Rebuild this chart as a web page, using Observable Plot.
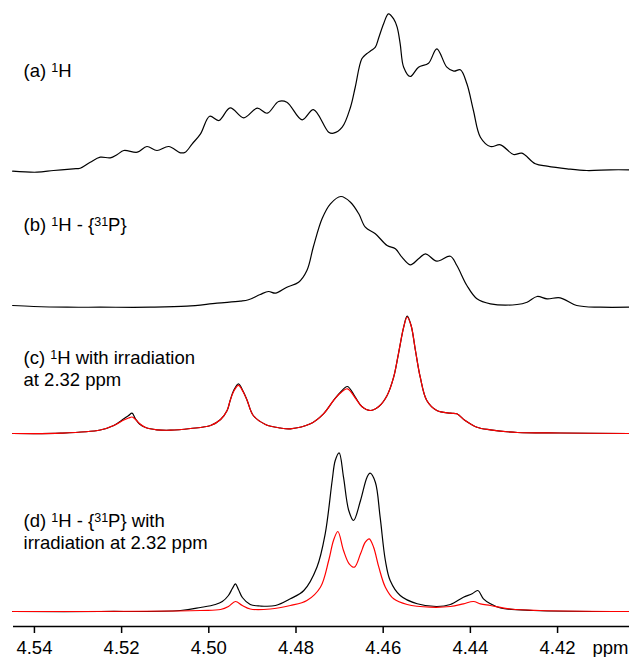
<!DOCTYPE html>
<html>
<head>
<meta charset="utf-8">
<script src="https://cdn.jsdelivr.net/npm/d3@7"></script>
<script src="https://cdn.jsdelivr.net/npm/@observablehq/plot@0.6"></script>
<style>
  html, body { margin: 0; padding: 0; background: #fff; }
  #chart svg { display: block; }
</style>
</head>
<body>
<div id="chart"></div>
<script>
// ---- Data (chemical shift in ppm, relative intensity) ----
const xTicks = [4.54, 4.52, 4.50, 4.48, 4.46, 4.44, 4.42];
const axisUnit = "ppm";

// vertical offset of each stacked spectrum (a, b, c, d)
const traceOffsets = [91, 64, 38.6, 3];

const traceLabels = [
  "(a) \u00B9H",
  "(b) \u00B9H - {\u00B3\u00B9P}",
  "(c) \u00B9H with irradiation\nat 2.32 ppm",
  "(d) \u00B9H - {\u00B3\u00B9P} with\nirradiation at 2.32 ppm"
];
const labelPpm = [4.5425, 4.5425, 4.5425, 4.5425];
const labelLevel = [110, 79.2, 48.2, 15.6];

// (a) 1H
const ppmA = [4.5450, 4.5394, 4.5356, 4.5311, 4.5295, 4.5272, 4.5249, 4.5226, 4.5210, 4.5195,
  4.5164, 4.5142, 4.5119, 4.5092, 4.5065, 4.5054, 4.5038, 4.5019, 4.4998, 4.4977,
  4.4951, 4.4920, 4.4889, 4.4866, 4.4840, 4.4821, 4.4786, 4.4760, 4.4725, 4.4714,
  4.4694, 4.4675, 4.4664, 4.4649, 4.4638, 4.4626, 4.4618, 4.4610, 4.4599, 4.4588,
  4.4576, 4.4568, 4.4561, 4.4553, 4.4538, 4.4519, 4.4496, 4.4477, 4.4454, 4.4438,
  4.4423, 4.4408, 4.4393, 4.4377, 4.4354, 4.4331, 4.4301, 4.4282, 4.4251, 4.4224,
  4.4178, 4.4133, 4.4079, 4.4036];
const intA = [0.06, -0.14, 0.2, 0.54, 0.66, 1.86, 2.86, 2.74, 3.4, 4.2,
  3.86, 5.0, 4.2, 5.0, 3.74, 3.86, 5.54, 7.54, 11.06, 10.2,
  12.74, 10.74, 12.66, 11.66, 14.0, 13.86, 10.34, 12.36, 7.86, 7.66,
  8.86, 12.86, 16.9, 22.54, 23.54, 24.3, 24.86, 26.8, 29.54, 31.54,
  30.54, 28.86, 25.54, 20.86, 19.0, 20.86, 21.66, 24.54, 20.86, 20.06,
  20.34, 17.54, 12.2, 6.86, 5.0, 5.34, 3.4, 3.66, 1.54, 1.06,
  0.54, 0.2, 0.34, 0.34];

// (b) 1H-{31P}
const ppmB = [4.5450, 4.5402, 4.5325, 4.5249, 4.5134, 4.5050, 4.4981, 4.4928, 4.4909, 4.4882,
  4.4863, 4.4847, 4.4821, 4.4794, 4.4775, 4.4760, 4.4740, 4.4721, 4.4697, 4.4675,
  4.4656, 4.4641, 4.4618, 4.4591, 4.4572, 4.4557, 4.4538, 4.4519, 4.4503, 4.4477,
  4.4446, 4.4431, 4.4408, 4.4385, 4.4354, 4.4293, 4.4270, 4.4247, 4.4224, 4.4194,
  4.4156, 4.4102, 4.4036];
const intB = [0.2, 0, -0.14, -0.14, -0.14, 0.06, 0.66, 1.06, 1.34, 2.4,
  3.0, 2.66, 3.86, 4.86, 7.2, 12.0, 17.6, 20.54, 22.0, 20.86,
  18.54, 15.86, 14.54, 12.2, 11.54, 9.86, 8.34, 9.54, 10.54, 9.06,
  10.06, 8.2, 4.2, 1.54, 0.54, 0.4, 0.86, 2.0, 1.54, 1.74,
  0.2, -0.14, -0.14];

// (c) 1H with irradiation at 2.32 ppm: black = experiment, red = overlay
const ppmC = [4.5450, 4.5340, 4.5249, 4.5218, 4.5195, 4.5184, 4.5176, 4.5168, 4.5159, 4.5145,
  4.5119, 4.5088, 4.5042, 4.4996, 4.4973, 4.4958, 4.4951, 4.4943, 4.4932, 4.4921,
  4.4912, 4.4898, 4.4870, 4.4836, 4.4813, 4.4767, 4.4737, 4.4714, 4.4698, 4.4682,
  4.4664, 4.4649, 4.4630, 4.4610, 4.4591, 4.4576, 4.4565, 4.4553, 4.4545, 4.4536,
  4.4526, 4.4515, 4.4500, 4.4477, 4.4446, 4.4431, 4.4412, 4.4385, 4.4354, 4.4292,
  4.4194, 4.4036];
const blackC = [0, 0.06, 0.7, 1.6, 2.94, 3.6, 4.06, 2.9, 1.9, 1.2,
  0.74, 0.66, 1.0, 1.6, 2.8, 4.6, 6.6, 8.6, 9.94, 8.4,
  6.6, 3.6, 1.8, 1.1, 0.94, 1.94, 3.94, 6.6, 8.26, 9.4,
  7.26, 5.4, 4.6, 5.4, 7.6, 11.26, 15.94, 21.26, 23.46, 21.6,
  16.6, 11.26, 6.6, 4.6, 4.06, 3.94, 2.6, 1.26, 0.74, 0.2,
  0.1, 0];
const redC = [0, 0.06, 0.7, 1.6, 2.7, 3.1, 3.3, 2.8, 2.0, 1.2,
  0.74, 0.66, 1.0, 1.6, 2.8, 4.6, 6.6, 8.4, 9.64, 8.3,
  6.6, 3.6, 1.8, 1.1, 0.94, 1.94, 3.94, 6.6, 8.1, 8.94,
  7.1, 5.4, 4.6, 5.4, 7.6, 11.26, 15.94, 21.26, 23.3, 21.6,
  16.6, 11.26, 6.6, 4.6, 4.06, 3.94, 2.6, 1.26, 0.74, 0.2,
  0.1, 0];

// (d) 1H-{31P} with irradiation at 2.32 ppm
const ppmDk = [4.5450, 4.5249, 4.5065, 4.5019, 4.4985, 4.4969, 4.4955, 4.4946, 4.4939, 4.4932,
  4.4923, 4.4905, 4.4882, 4.4847, 4.4813, 4.4782, 4.4752, 4.4733, 4.4717, 4.4710,
  4.4701, 4.4691, 4.4679, 4.4668, 4.4652, 4.4637, 4.4630, 4.4618, 4.4607, 4.4595,
  4.4584, 4.4561, 4.4522, 4.4477, 4.4446, 4.4416, 4.4396, 4.4383, 4.4370, 4.4354,
  4.4331, 4.4256, 4.4036];
const blackD = [0, 0, 0.2, 0.8, 1.4, 2.0, 3.2, 4.6, 5.54, 4.4,
  2.8, 1.4, 1.1, 1.2, 2.54, 4.2, 8.86, 15.54, 26.2, 30.2,
  31.74, 26.86, 20.2, 18.2, 22.2, 26.86, 27.66, 25.86, 18.86, 10.2,
  6.2, 3.2, 1.54, 1.0, 1.4, 2.86, 3.54, 4.2, 2.54, 1.54,
  0.7, 0.2, 0];
const ppmDr = [4.5450, 4.5019, 4.4973, 4.4955, 4.4939, 4.4923, 4.4905, 4.4859, 4.4813, 4.4775,
  4.4744, 4.4725, 4.4714, 4.4704, 4.4691, 4.4678, 4.4666, 4.4652, 4.4641, 4.4632,
  4.4622, 4.4610, 4.4595, 4.4576, 4.4545, 4.4492, 4.4446, 4.4416, 4.4393, 4.4377,
  4.4354, 4.4308, 4.4240, 4.4036];
const redD = [0, 0.2, 0.4, 1.0, 2.0, 1.2, 0.5, 0.5, 1.2, 2.2,
  4.86, 10.2, 14.2, 16.0, 12.2, 9.54, 8.86, 11.54, 13.86, 14.54,
  12.86, 8.86, 4.86, 2.54, 1.4, 0.86, 1.0, 1.54, 2.0, 1.54,
  1.2, 0.5, 0.2, 0];

// ---- Build tables for Plot ----
function trace(ppm, intensity, offset) {
  return ppm.map((p, i) => ({ppm: p, v: offset + intensity[i]}));
}
const dataA = trace(ppmA, intA, traceOffsets[0]);
const dataB = trace(ppmB, intB, traceOffsets[1]);
const dataCk = trace(ppmC, blackC, traceOffsets[2]);
const dataCr = trace(ppmC, redC, traceOffsets[2]);
const dataDk = trace(ppmDk, blackD, traceOffsets[3]);
const dataDr = trace(ppmDr, redD, traceOffsets[3]);
const labelData = traceLabels.map((t, i) => ({text: t, ppm: labelPpm[i], v: labelLevel[i]}));

const font = "Arial, 'Liberation Sans', Helvetica, sans-serif";
const lineOpts = {x: "ppm", y: "v", curve: "catmull-rom", strokeWidth: 1.2};

const chart = Plot.plot({
  width: 629,
  height: 657,
  marginLeft: 13,
  marginRight: 0,
  marginTop: 0,
  marginBottom: 31,
  x: {domain: [4.5448, 4.4035], axis: null},
  y: {domain: [0, 125.2], axis: null},
  style: {fontFamily: font, fontSize: "18.5px", background: "#fff", color: "#000", overflow: "visible"},
  marks: [
    Plot.ruleY([0], {stroke: "#000", strokeWidth: 1.5}),
    Plot.axisX({
      ticks: xTicks,
      tickFormat: d3.format(".2f"),
      tickSize: 7,
      tickPadding: 7,
      strokeWidth: 1.5,
      fontSize: 18.5,
      label: null
    }),
    Plot.text([axisUnit], {x: 4.4120, y: -5.4, text: d => d, textAnchor: "start", lineAnchor: "bottom", fontSize: 18.5, fill: "#000"}),
    Plot.line(dataA, {...lineOpts, stroke: "#000"}),
    Plot.line(dataB, {...lineOpts, stroke: "#000"}),
    Plot.line(dataCk, {...lineOpts, stroke: "#000"}),
    Plot.line(dataCr, {...lineOpts, stroke: "#ff0000"}),
    Plot.line(dataDk, {...lineOpts, stroke: "#000"}),
    Plot.line(dataDr, {...lineOpts, stroke: "#ff0000"}),
    Plot.text(labelData, {x: "ppm", y: "v", text: "text", textAnchor: "start", lineAnchor: "bottom", lineHeight: 1.18, fontSize: 18.5, fill: "#000"})
  ]
});

// Render Unicode superscript digits as real raised, smaller text.
const supMap = {"\u00B9": "1", "\u00B2": "2", "\u00B3": "3"};
function superscriptify(el) {
  const s = el.textContent;
  if (!/[\u00B9\u00B2\u00B3]/.test(s)) return;
  el.textContent = "";
  const runs = [];
  for (const ch of s) {
    const sup = ch in supMap;
    const last = runs[runs.length - 1];
    if (last && last.sup === sup) last.t += sup ? supMap[ch] : ch;
    else runs.push({sup, t: sup ? supMap[ch] : ch});
  }
  let raised = false;
  for (const r of runs) {
    const ts = document.createElementNS("http://www.w3.org/2000/svg", "tspan");
    ts.textContent = r.t;
    if (r.sup) {
      ts.setAttribute("font-size", "12.5");
      ts.setAttribute("dy", "-5");
      raised = true;
    } else if (raised) {
      ts.setAttribute("dy", "5");
      raised = false;
    }
    el.appendChild(ts);
  }
}
chart.querySelectorAll("text").forEach(t => {
  const lines = t.querySelectorAll("tspan");
  if (lines.length) lines.forEach(superscriptify);
  else superscriptify(t);
});

document.getElementById("chart").appendChild(chart);
</script>
</body>
</html>
